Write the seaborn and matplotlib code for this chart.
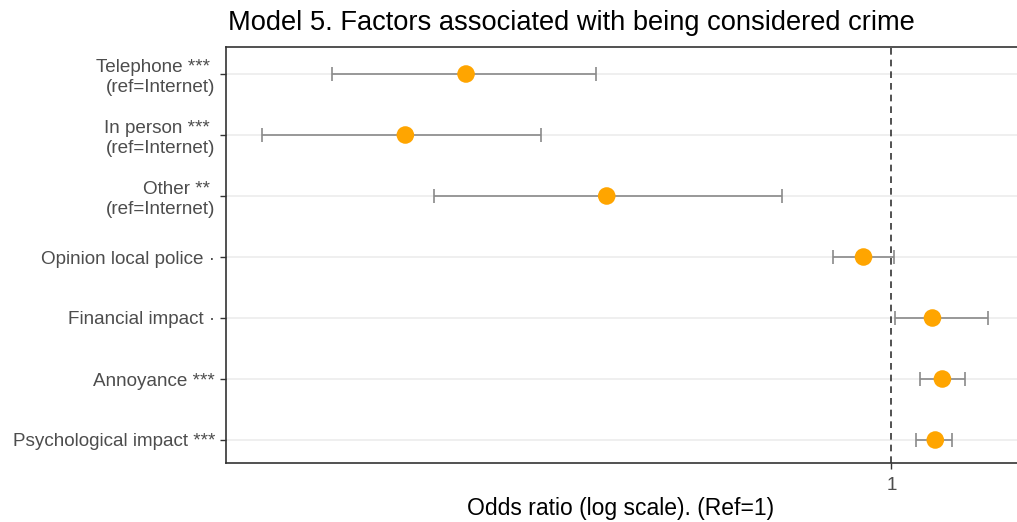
import matplotlib
matplotlib.use("Agg")
import matplotlib.pyplot as plt
import seaborn as sns
import pandas as pd
import numpy as np

labels = [
    "Telephone *** \n(ref=Internet)",
    "In person *** \n(ref=Internet)",
    "Other ** \n(ref=Internet)",
    "Opinion local police ·",
    "Financial impact ·",
    "Annoyance ***",
    "Psychological impact ***",
]
odds = [0.211, 0.169, 0.353, 0.903, 1.162, 1.205, 1.174]
ci_low = [0.129, 0.100, 0.188, 0.809, 1.015, 1.112, 1.096]
ci_high = [0.340, 0.278, 0.669, 1.011, 1.426, 1.311, 1.250]

df = pd.DataFrame({"term": labels, "or": odds, "lo": ci_low, "hi": ci_high})

sns.set_theme(style="white")
plt.rcParams['font.family'] = ['Liberation Sans', 'DejaVu Sans']

W, H = 1017, 522
fig = plt.figure(figsize=(W / 100, H / 100), dpi=100)
left, right, top, bottom = 226, 1025, 47, 463
ax = fig.add_axes([left / W, (H - bottom) / H, (right - left) / W, (bottom - top) / H])

ypos = np.arange(len(labels))
for y in ypos:
    ax.axhline(y, color="#ebebeb", lw=1.1, zorder=0)

ax.errorbar(df["or"], ypos, xerr=[df["or"] - df["lo"], df["hi"] - df["or"]],
            fmt="none", ecolor="#8a8a8a", elinewidth=1.2, capsize=5, capthick=1.2, zorder=2)
sns.scatterplot(x=df["or"], y=ypos, ax=ax, color="#FFA500", s=160, marker="o",
                edgecolor="none", zorder=3, legend=False)
ax.axvline(1, color="#333333", ls=(0, (4, 3)), lw=1.2, zorder=1)

ax.set_xscale("log")
ax.set_xlim(0.0877, 1.63)
ax.set_xticks([1])
ax.set_xticklabels(["1"])
ax.minorticks_off()
ax.set_yticks(ypos)
ax.set_yticklabels(labels)
ax.set_ylim(6 + 23 / 61, -27 / 61)

for s in ax.spines.values():
    s.set_color("#333333")
    s.set_linewidth(1.2)

ax.tick_params(axis="both", which="major", length=4, width=1, color="#333333",
               labelcolor="#4d4d4d", labelsize=13.6, direction="out",
               left=True, bottom=True)
ax.tick_params(axis="y", pad=4)
ax.tick_params(axis="x", pad=6)
for t in ax.get_yticklabels():
    t.set_multialignment("right")
    t.set_linespacing(1.2)

ax.set_xlabel("Odds ratio (log scale). (Ref=1)", fontsize=16.5, color="black", va="center")
ax.xaxis.set_label_coords((621 - left) / (right - left), -(508 - bottom) / (bottom - top))
ax.set_ylabel("")
fig.text(228 / W, 1 - 23 / H, "Model 5. Factors associated with being considered crime",
         fontsize=19.6, color="black", ha="left", va="center")

fig.savefig("out.png", dpi=100)
